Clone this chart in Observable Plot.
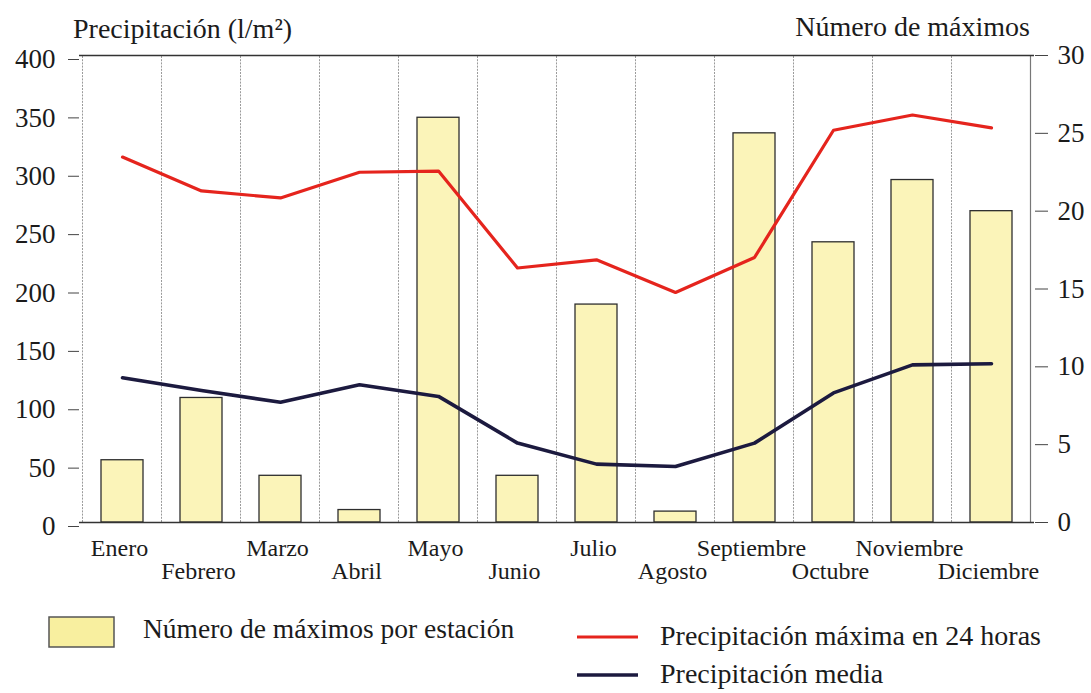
<!DOCTYPE html>
<html><head><meta charset="utf-8">
<script src="https://cdn.jsdelivr.net/npm/d3@7"></script>
<script src="https://cdn.jsdelivr.net/npm/@observablehq/plot@0.6"></script>
<style>
body{margin:0;background:#fff;font-family:"Liberation Serif",serif;color:#1b1b1b}
#wrap{position:relative;width:1091px;height:693px;overflow:hidden;background:#fff}
#over{position:absolute;left:0;top:0;pointer-events:none}
svg text{font-family:"Liberation Serif",serif !important}
</style></head><body><div id="wrap"></div>
<script>
const months = ["Enero","Febrero","Marzo","Abril","Mayo","Junio","Julio","Agosto","Septiembre","Octubre","Noviembre","Diciembre"];
const maxCount = [4, 8, 3, 0.8, 26, 3, 14, 0.7, 25, 18, 22, 20];          // Número de máximos por estación (right axis)
const max24h = [313, 284, 278, 300, 301, 218, 225, 197, 227, 336, 349, 338]; // Precipitación máxima en 24 horas
const meanPrecip = [124, 113, 103, 118, 108, 68, 50, 48, 68, 111, 135, 136]; // Precipitación media
const leftTicks = [0, 50, 100, 150, 200, 250, 300, 350, 400];
const rightTicks = [0, 5, 10, 15, 20, 25, 30];
const leftTitle = "Precipitación (l/m²)";
const rightTitle = "Número de máximos";
const legendLabels = ["Número de máximos por estación", "Precipitación máxima en 24 horas", "Precipitación media"];

const FONT = "Liberation Serif";
const K = 400 / 30;
const data = months.map((m, i) => ({month: m, count: maxCount[i], max: max24h[i], mean: meanPrecip[i], row: i % 2}));

function bandGrid(index, scales) {
  const x = scales.x, y = scales.y;
  const bw = x.bandwidth ? x.bandwidth() : 0;
  const step = x.step ? x.step() : (x(months[1]) - x(months[0]));
  const off = (step - bw) / 2;
  const g = d3.create("svg:g");
  const y0 = y(0), y1 = y(400);
  months.forEach(m => {
    g.append("line").attr("x1", x(m) - off).attr("x2", x(m) - off)
      .attr("y1", y0).attr("y2", y1)
      .attr("stroke", "#9a9a9a").attr("stroke-width", 1).attr("stroke-dasharray", "2,1.2");
  });
  const xe = x(months[months.length - 1]) + bw + off;
  g.append("line").attr("x1", xe).attr("x2", xe).attr("y1", y0).attr("y2", y1)
    .attr("stroke", "#777").attr("stroke-width", 1.2);
  return g.node();
}

const plot = Plot.plot({
  width: 1091, height: 600,
  marginLeft: 79, marginRight: 57, marginTop: 55, marginBottom: 78,
  style: {fontFamily: FONT, fontSize: "22px", color: "#1b1b1b", background: "transparent"},
  x: {domain: months, paddingInner: 0.47, paddingOuter: 0.235, axis: null},
  y: {domain: [0, 400]},
  marks: [
    bandGrid,
    Plot.barY(data, {x: "month", y: d => d.count * K, fill: "#fbf4b9", stroke: "#2e2e2e", strokeWidth: 1.3}),
    Plot.ruleY([0, 400], {stroke: "#333", strokeWidth: 1.4}),
    Plot.axisY(leftTicks, {anchor: "left", tickSize: 11, tickPadding: 13, fontSize: 27, fontFamily: FONT, dy: 4, label: null, stroke: "#444", fill: "#1b1b1b"}),
    Plot.axisY(rightTicks.map(v => v * K), {anchor: "right", tickSize: 13, tickPadding: 10, fontSize: 27, fontFamily: FONT, label: null, tickFormat: d => Math.round(d / K), stroke: "#444", fill: "#1b1b1b"}),
    Plot.line(data, {x: "month", y: "max", stroke: "#e5241d", strokeWidth: 3.2}),
    Plot.line(data, {x: "month", y: "mean", stroke: "#1c1a3f", strokeWidth: 3.6}),
    Plot.text(data.filter(d => d.row === 0), {x: "month", y: 0, text: "month", lineAnchor: "top", dy: 16, dx: -3, fontSize: 24, fontFamily: FONT, fill: "#1b1b1b"}),
    Plot.text(data.filter(d => d.row === 1), {x: "month", y: 0, text: "month", lineAnchor: "top", dy: 39, dx: -3, fontSize: 24, fontFamily: FONT, fill: "#1b1b1b"})
  ]
});
const wrap = document.getElementById("wrap");
wrap.appendChild(plot);

// titles and legend overlay
const ov = d3.select(wrap).append("svg").attr("id", "over").attr("width", 1091).attr("height", 693);
function label(x, y, size, txt, anchor) {
  return ov.append("text").attr("x", x).attr("y", y).attr("font-size", size)
    .attr("font-family", FONT).attr("fill", "#1b1b1b").attr("text-anchor", anchor || "start").text(txt);
}
label(73, 38, 28, leftTitle);
label(1030, 36, 28, rightTitle, "end");
ov.append("rect").attr("x", 49).attr("y", 617).attr("width", 65).attr("height", 30)
  .attr("fill", "#f8ef9f").attr("stroke", "#555").attr("stroke-width", 1.5);
label(143, 638, 27.5, legendLabels[0]);
ov.append("line").attr("x1", 577).attr("x2", 638).attr("y1", 637).attr("y2", 637).attr("stroke", "#e5241d").attr("stroke-width", 3.2);
label(660, 645, 28, legendLabels[1]);
ov.append("line").attr("x1", 577).attr("x2", 638).attr("y1", 675).attr("y2", 675).attr("stroke", "#1c1a3f").attr("stroke-width", 3.6);
label(660, 683, 28, legendLabels[2]);
</script></body></html>
